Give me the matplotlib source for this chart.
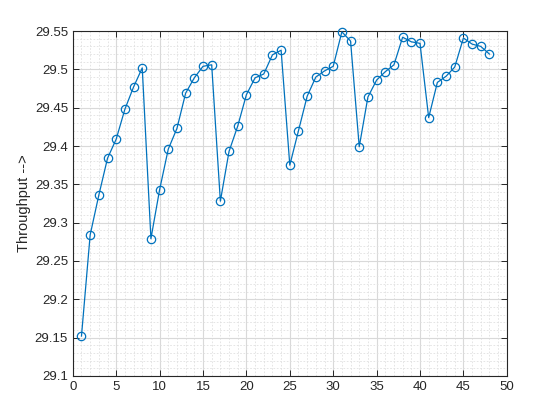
import matplotlib
matplotlib.use("Agg")
import matplotlib.pyplot as plt
from matplotlib.ticker import MultipleLocator

x = list(range(1, 49))
throughput = [29.152, 29.284, 29.336, 29.384, 29.409, 29.448, 29.477, 29.502,
              29.279, 29.343, 29.396, 29.423, 29.469, 29.489, 29.504, 29.506,
              29.328, 29.393, 29.426, 29.467, 29.489, 29.494, 29.519, 29.525,
              29.375, 29.420, 29.465, 29.490, 29.498, 29.504, 29.549, 29.537,
              29.399, 29.464, 29.486, 29.497, 29.506, 29.542, 29.536, 29.534,
              29.437, 29.483, 29.491, 29.503, 29.541, 29.533, 29.530, 29.520]

plt.rcParams['font.family'] = ['Liberation Sans', 'DejaVu Sans']
fig = plt.figure(figsize=(5.6, 4.2), dpi=100)
ax = fig.add_axes([0.13, 0.105, 0.775, 0.821])
ax.plot(x, throughput, color='#0072BD', linewidth=0.9, marker='o',
        markerfacecolor='none', markeredgewidth=0.9, markersize=6, clip_on=False, zorder=5)
ax.set_xlim(0, 50)
ax.set_ylim(29.1, 29.55)
ax.xaxis.set_major_locator(MultipleLocator(5))
ax.xaxis.set_minor_locator(MultipleLocator(1))
ax.yaxis.set_major_locator(MultipleLocator(0.05))
ax.yaxis.set_minor_locator(MultipleLocator(0.01))
ax.set_yticks([29.1, 29.15, 29.2, 29.25, 29.3, 29.35, 29.4, 29.45, 29.5, 29.55])
ax.set_yticklabels(['29.1', '29.15', '29.2', '29.25', '29.3', '29.35', '29.4', '29.45', '29.5', '29.55'])
ax.grid(True, which='major', color='#d9d9d9', linewidth=0.8, linestyle='-')
ax.grid(True, which='minor', color='#e0e0e0', linewidth=0.6, linestyle=(0, (2, 2)))
ax.set_axisbelow(True)
ax.tick_params(which='both', direction='in', top=True, right=True, labelsize=9.5,
               colors='#262626', width=0.7)
ax.tick_params(which='major', length=4)
ax.tick_params(which='minor', length=0)
for s in ax.spines.values():
    s.set_color('#262626')
    s.set_linewidth(0.8)
ax.set_ylabel('Throughput -->', fontsize=10.5, color='#262626', labelpad=3)
fig.savefig('out.png', dpi=100)
